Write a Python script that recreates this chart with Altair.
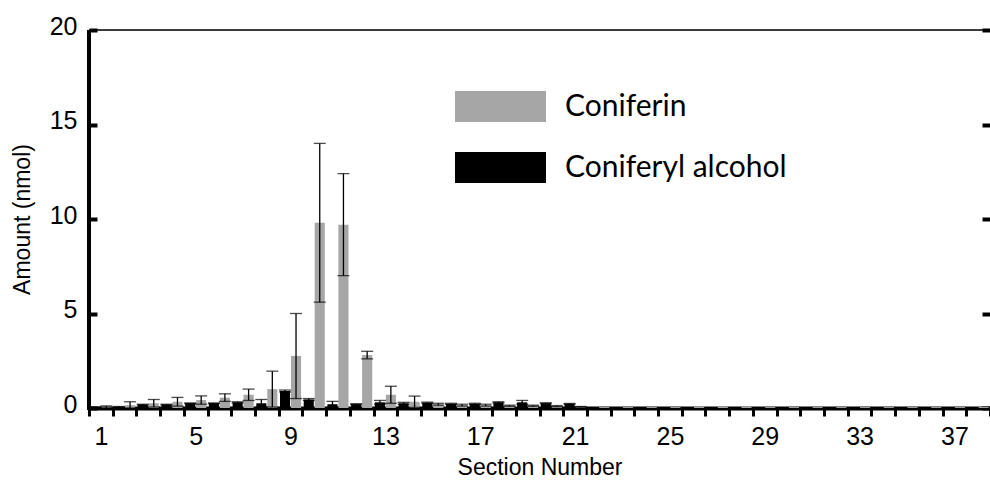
import altair as alt
import pandas as pd

sections = list(range(1, 39))

coniferin = [0.06, 0.15, 0.25, 0.33, 0.42, 0.55, 0.70, 1.00, 2.75, 9.80,
             9.70, 2.80, 0.70, 0.33, 0.20, 0.15, 0.15, 0.12, 0.12, 0.10,
             0.06, 0.05, 0.05, 0.05, 0.05, 0.08, 0.08, 0.08, 0.05, 0.05,
             0.05, 0.05, 0.05, 0.05, 0.05, 0.05, 0.05, 0.05]
coniferin_err = [0.05, 0.18, 0.20, 0.23, 0.22, 0.20, 0.30, 0.95, 2.25, 4.20,
                 2.70, 0.20, 0.45, 0.30, 0.05, 0.05, 0.05, 0.03, 0.03, 0.03,
                 0.02, 0, 0, 0, 0, 0, 0, 0, 0, 0,
                 0, 0, 0, 0, 0, 0, 0, 0]

alcohol = [0.03, 0.05, 0.18, 0.18, 0.25, 0.25, 0.30, 0.25, 0.90, 0.45,
           0.20, 0.20, 0.30, 0.25, 0.28, 0.22, 0.22, 0.30, 0.30, 0.25,
           0.22, 0.05, 0.05, 0.05, 0.05, 0.05, 0.05, 0.05, 0.05, 0.05,
           0.05, 0.05, 0.05, 0.05, 0.05, 0.05, 0.05, 0.05]
alcohol_err = [0.02, 0.03, 0.02, 0.02, 0.02, 0.02, 0.03, 0.20, 0.05, 0.05,
               0.15, 0.03, 0.10, 0.05, 0.03, 0.03, 0.03, 0.03, 0.10, 0.03,
               0.02, 0, 0, 0, 0, 0, 0, 0, 0, 0,
               0, 0, 0, 0, 0, 0, 0, 0]

series_legend = ["Coniferin", "Coniferyl alcohol"]
series_colors = ["#a6a6a6", "#000000"]
series_offset_order = ["Coniferyl alcohol", "Coniferin"]

rows = []
for i, s in enumerate(sections):
    rows.append({"section": s, "series": "Coniferyl alcohol",
                 "value": alcohol[i], "err": alcohol_err[i]})
    rows.append({"section": s, "series": "Coniferin",
                 "value": coniferin[i], "err": coniferin_err[i]})
df = pd.DataFrame(rows)
df["lo"] = (df["value"] - df["err"]).clip(lower=0)
df["hi"] = df["value"] + df["err"]
err_df = df[df["err"] > 0]

FONT = "Liberation Sans"

x_enc = alt.X(
    "section:O",
    scale=alt.Scale(paddingInner=0, paddingOuter=0),
    axis=alt.Axis(
        title="Section Number", titleFont=FONT, titleFontSize=23,
        titleFontWeight="normal", titleColor="#000", titlePadding=7,
        labelFont=FONT, labelFontSize=25, labelColor="#000", labelAngle=0,
        labelPadding=8,
        labelExpr="(datum.value - 1) % 4 == 0 ? datum.label : ''",
        tickBand="extent", tickSize=8, tickWidth=3, tickColor="#000",
        domainWidth=4, domainColor="#000", grid=False,
    ),
)
xoff_enc = alt.XOffset(
    "series:N",
    scale=alt.Scale(domain=series_offset_order, paddingInner=0.08,
                    paddingOuter=0.12),
)
y_scale = alt.Scale(domain=[0, 20], nice=False)

bars = alt.Chart(df).mark_bar().encode(
    x=x_enc,
    xOffset=xoff_enc,
    y=alt.Y(
        "value:Q", scale=y_scale,
        axis=alt.Axis(
            orient="left", offset=-8, domain=False, grid=False,
            values=[0, 5, 10, 15, 20], tickSize=8, tickWidth=4,
            tickColor="#000", labelFont=FONT, labelFontSize=25,
            labelColor="#000", labelPadding=12, labelOffset=-4,
            title="Amount (nmol)", titleFont=FONT, titleFontSize=23,
            titleFontWeight="normal", titleColor="#000", titlePadding=15,
        ),
    ),
    color=alt.Color(
        "series:N",
        scale=alt.Scale(domain=series_legend, range=series_colors),
        legend=alt.Legend(
            title=None, orient="none", legendX=366, legendY=31,
            direction="vertical",
            symbolType="M-1,-0.34H1V0.34H-1Z", symbolSize=8281,
            symbolStrokeWidth=0, symbolOpacity=1,
            labelFont="Lato", labelFontSize=30, labelColor="#000",
            labelOffset=19, rowPadding=-24, labelLimit=500,
        ),
    ),
)

err_rule = alt.Chart(err_df).mark_rule(color="#000", strokeWidth=1.3).encode(
    x=alt.X("section:O"),
    xOffset=xoff_enc,
    y=alt.Y(
        "lo:Q", scale=y_scale,
        axis=alt.Axis(
            orient="right", offset=-8, domain=False, grid=False,
            labels=False, values=[0, 5, 10, 15, 20], tickSize=8,
            tickWidth=4, tickColor="#000", title=None,
        ),
    ),
    y2="hi:Q",
)
cap_hi = alt.Chart(err_df).mark_tick(color="#000", thickness=1.3, size=12).encode(
    x=alt.X("section:O"), xOffset=xoff_enc,
    y=alt.Y("hi:Q", scale=y_scale, axis=None),
)
cap_lo = alt.Chart(err_df).mark_tick(color="#000", thickness=1.3, size=12).encode(
    x=alt.X("section:O"), xOffset=xoff_enc,
    y=alt.Y("lo:Q", scale=y_scale, axis=None),
)

frame_df = pd.DataFrame({"k": [0]})
left_line = alt.Chart(frame_df).mark_rule(color="#000", strokeWidth=4).encode(
    x=alt.value(0), y=alt.value(0), y2=alt.value(380)
)
top_line = alt.Chart(frame_df).mark_rule(color="#000", strokeWidth=1.5).encode(
    x=alt.value(0), x2=alt.value(901), y=alt.value(0)
)

chart = alt.layer(bars, err_rule, cap_hi, cap_lo, left_line, top_line).resolve_axis(
    y="independent"
).properties(
    width=901, height=378,
    autosize=alt.AutoSizeParams(type="none"),
    padding={"left": 89, "top": 30, "right": 0, "bottom": 72},
).configure_view(stroke=None).configure(background="#ffffff")

chart.save("out.html", embed_options={"renderer": "svg", "actions": False})
